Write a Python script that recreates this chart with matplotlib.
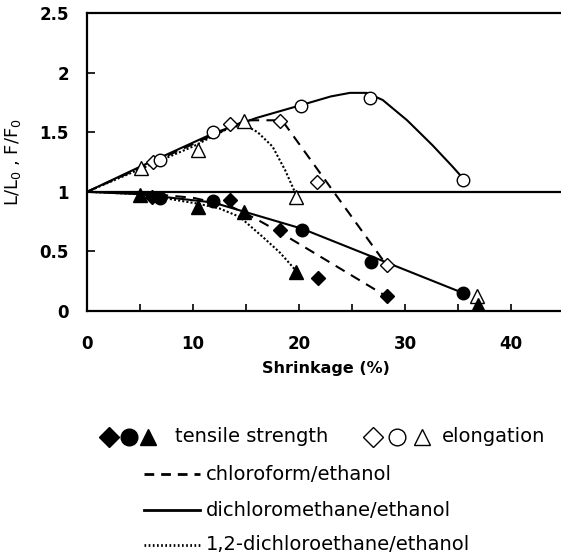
import numpy as np
import matplotlib
matplotlib.use("Agg")
import matplotlib.pyplot as plt
from matplotlib.lines import Line2D
from matplotlib.ticker import FixedLocator, FuncFormatter

plt.rcParams['font.family'] = ['DejaVu Sans']

# measured points (shrinkage %, ratio)
# elongation L/L0 (open markers)
elong_chl_x = [6.2, 13.5, 18.2, 21.7, 28.3]
elong_chl_y = [1.25, 1.57, 1.59, 1.08, 0.39]
elong_dcm_x = [6.9, 11.9, 20.2, 26.7, 35.5]
elong_dcm_y = [1.27, 1.50, 1.72, 1.79, 1.10]
elong_dce_x = [5.1, 10.5, 14.8, 19.7, 36.8]
elong_dce_y = [1.20, 1.35, 1.59, 0.96, 0.13]

# tensile strength F/F0 (filled markers)
tens_chl_x = [6.1, 13.5, 18.2, 21.8, 28.3]
tens_chl_y = [0.96, 0.93, 0.68, 0.28, 0.13]
tens_dcm_x = [6.9, 11.9, 20.3, 26.8, 35.5]
tens_dcm_y = [0.95, 0.92, 0.68, 0.41, 0.15]
tens_dce_x = [5.0, 10.5, 14.8, 19.7, 36.9]
tens_dce_y = [0.97, 0.87, 0.83, 0.33, 0.05]

# fitted curves
curve_elong_chl_x = [0, 5, 10, 15, 18.4, 28.3]
curve_elong_chl_y = [1.0, 1.20, 1.40, 1.60, 1.60, 0.38]
curve_elong_dcm_x = [0, 5, 11.9, 16, 20.3, 23, 24.8, 26.4, 27.9, 30.2, 32.6, 34.5, 35.5]
curve_elong_dcm_y = [1.0, 1.21, 1.49, 1.62, 1.73, 1.80, 1.83, 1.83, 1.77, 1.60, 1.39, 1.21, 1.11]
curve_elong_dce_x = [0, 5, 10, 13.5, 14.9, 16.1, 17.5, 18.7, 19.7]
curve_elong_dce_y = [1.0, 1.19, 1.38, 1.54, 1.56, 1.50, 1.38, 1.18, 0.98]

curve_tens_chl_x = [0, 5, 10, 13.5, 16.0, 18.2, 28.3]
curve_tens_chl_y = [1.0, 0.99, 0.95, 0.88, 0.77, 0.66, 0.12]
curve_tens_dcm_x = [0, 5, 11.9, 20.3, 35.5]
curve_tens_dcm_y = [1.0, 0.98, 0.91, 0.69, 0.15]
curve_tens_dce_x = [0, 5, 7.8, 10.5, 12.5, 14.4, 16.6, 18.2, 19.7]
curve_tens_dce_y = [1.0, 0.98, 0.94, 0.90, 0.86, 0.79, 0.62, 0.49, 0.34]

xticks_major = [0, 10, 20, 30, 40]
xticks_all = [0, 5, 10, 15, 20, 25, 30, 35, 40]
yticks = [0, 0.5, 1, 1.5, 2, 2.5]

fig = plt.figure(figsize=(5.61, 5.60), dpi=100)
ax = fig.add_axes([87/561, 249/560, 477/561, 298/560])

lw = 1.5
ax.axhline(1.0, color='black', lw=1.6, zorder=1)

ax.plot(curve_elong_chl_x, curve_elong_chl_y, color='black', lw=lw, ls=(0, (5, 3.5)))
ax.plot(curve_tens_chl_x, curve_tens_chl_y, color='black', lw=lw, ls=(0, (5, 3.5)))
ax.plot(curve_elong_dcm_x, curve_elong_dcm_y, color='black', lw=lw, ls='-')
ax.plot(curve_tens_dcm_x, curve_tens_dcm_y, color='black', lw=lw, ls='-')
ax.plot(curve_elong_dce_x, curve_elong_dce_y, color='black', lw=lw, ls=(0, (1, 1)))
ax.plot(curve_tens_dce_x, curve_tens_dce_y, color='black', lw=lw, ls=(0, (1, 1)))

mk = dict(ls='none', color='black', mec='black', mew=1.0, zorder=3)
ax.plot(elong_chl_x, elong_chl_y, marker='D', ms=7, mfc='white', **mk)
ax.plot(elong_dcm_x, elong_dcm_y, marker='o', ms=9, mfc='white', **mk)
ax.plot(elong_dce_x, elong_dce_y, marker='^', ms=10, mfc='white', **mk)
ax.plot(tens_chl_x, tens_chl_y, marker='D', ms=7, mfc='black', **mk)
ax.plot(tens_dcm_x, tens_dcm_y, marker='o', ms=9, mfc='black', **mk)
ax.plot(tens_dce_x, tens_dce_y, marker='^', ms=10, mfc='black', **mk)

ax.set_xlim(0, 45)
ax.set_ylim(0, 2.5)
ax.spines['right'].set_visible(False)
for s in ax.spines.values():
    s.set_linewidth(1.6)

ax.xaxis.set_major_locator(FixedLocator(xticks_all))
ax.xaxis.set_major_formatter(FuncFormatter(lambda v, p: f"{v:g}" if v in xticks_major else ""))
ax.yaxis.set_major_locator(FixedLocator(yticks))
ax.yaxis.set_major_formatter(FuncFormatter(lambda v, p: f"{v:g}"))
ax.tick_params(axis='x', direction='in', length=5, width=1.2, pad=17, labelsize=12)
ax.tick_params(axis='y', direction='in', length=6, width=1.2, pad=13, labelsize=12)
for lab in ax.get_xticklabels() + ax.get_yticklabels():
    lab.set_fontweight('bold')

ax.set_xlabel("Shrinkage (%)", fontsize=11.5, fontweight='bold', labelpad=6)
ax.set_ylabel("L/L$_\\mathregular{0}$ , F/F$_\\mathregular{0}$", fontsize=13, labelpad=12)

# legend drawn below the axes
fs = 14
y1 = 1 - 437/560
for xp, m, fill in [(109, 'D', 'black'), (129, 'o', 'black'), (148, '^', 'black'),
                    (373, 'D', 'white'), (397, 'o', 'white'), (422, '^', 'white')]:
    fig.add_artist(Line2D([xp/561], [y1], marker=m, ms=12 if m != 'D' else 10,
                          mfc=fill, mec='black', mew=1.0, ls='none',
                          transform=fig.transFigure))
fig.text(175/561, y1, "tensile strength", fontsize=fs, va='center', ha='left')
fig.text(442/561, y1, "elongation", fontsize=fs, va='center', ha='left')

rows = [("chloroform/ethanol", (0, (3.5, 2.5)), 474),
        ("dichloromethane/ethanol", '-', 510),
        ("1,2-dichloroethane/ethanol", (0, (0.6, 0.9)), 545)]
for label, style, ypix in rows:
    yf = 1 - ypix/560
    fig.add_artist(Line2D([144/561, 200/561], [yf, yf], color='black', lw=2,
                          ls=style, transform=fig.transFigure))
    fig.text(206/561, yf, label, fontsize=fs, va='center', ha='left')

fig.savefig("out.png", dpi=100)
